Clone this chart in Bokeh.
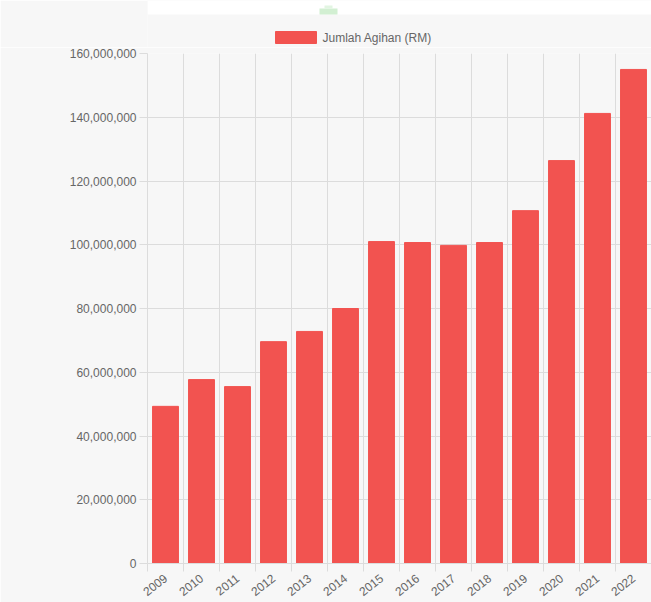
import numpy as np
from bokeh.plotting import figure
from bokeh.layouts import column
from bokeh.models import (Range1d, FixedTicker, NumeralTickFormatter,
                          Grid, ColumnDataSource)
from bokeh.core.properties import value
from bokeh.embed import file_html
from bokeh.resources import INLINE

years = ["2009", "2010", "2011", "2012", "2013", "2014", "2015",
         "2016", "2017", "2018", "2019", "2020", "2021", "2022"]
amounts = [49.3e6, 57.7e6, 55.5e6, 69.6e6, 72.8e6, 80.0e6, 101.0e6,
           100.7e6, 99.8e6, 100.7e6, 110.7e6, 126.4e6, 141.2e6, 155.0e6]
y_ticks = [0, 20e6, 40e6, 60e6, 80e6, 100e6, 120e6, 140e6, 160e6]
series_name = "Jumlah Agihan (RM)"

n = len(years)
idx = list(range(n))
src = ColumnDataSource(dict(x=idx, top=amounts, year=years))

BG = "#f7f7f7"
GRID = "#dcdcdc"
TXT = "#666666"
BAR = "#f25350"
HEAD_H = 47
LEFT = 147

# ---- header with legend (pixel-like coordinates) ----
h = figure(width=651, height=HEAD_H, output_backend="svg",
           toolbar_location=None, x_range=Range1d(LEFT, 651),
           y_range=Range1d(HEAD_H, 0), min_border=0, min_border_left=LEFT,
           x_axis_type=None, y_axis_type=None)
h.background_fill_color = BG
h.border_fill_color = BG
h.outline_line_color = None
h.xgrid.visible = False
h.ygrid.visible = False
h.quad(left=LEFT, right=651, top=0, bottom=14, fill_color="white", line_color=None)
h.quad(left=319, right=337, top=8, bottom=14, fill_color="#d2efd2", line_color=None)
h.quad(left=324, right=332, top=5, bottom=8, fill_color="#e2f5e2", line_color=None)
h.quad(left=275, right=316, top=31, bottom=43, fill_color=BAR, line_color=BAR)
h.text(x=[322], y=[37.5], text=[series_name], text_baseline="middle",
       text_align="left", text_font=value("Liberation Sans"),
       text_font_size="12px", text_color=TXT)

# ---- main chart ----
p = figure(width=651, height=602 - HEAD_H, output_backend="svg",
           toolbar_location=None,
           x_range=Range1d(-0.5, n - 0.5), y_range=Range1d(0, 160e6),
           min_border_left=LEFT, min_border_right=0, min_border_top=6,
           min_border_bottom=39)
p.background_fill_color = BG
p.border_fill_color = BG
p.outline_line_color = None

r = p.vbar(x="x", top="top", width=0.72, source=src, fill_color=BAR,
           line_color=BAR, line_width=1)

xt = FixedTicker(ticks=idx, minor_ticks=[i - 0.5 for i in idx] + [n - 0.5])
xa = p.xaxis[0]
xa.ticker = xt
xa.major_label_overrides = {i: y for i, y in zip(idx, years)}
xa.major_tick_out = 0
xa.major_tick_in = 0
xa.minor_tick_out = 8
xa.minor_tick_in = 0
xa.minor_tick_line_color = GRID
xa.axis_line_color = GRID
xa.major_label_orientation = 0.66
xa.major_label_text_font = "Liberation Sans"
xa.major_label_text_font_size = "12px"
xa.major_label_text_color = TXT
xa.major_label_standoff = 5

p.xgrid.grid_line_color = None
vg = Grid(dimension=0, ticker=xt, grid_line_color=None,
          minor_grid_line_color=GRID)
p.add_layout(vg)

ya = p.yaxis[0]
ya.ticker = FixedTicker(ticks=y_ticks)
ya.formatter = NumeralTickFormatter(format="0,0")
ya.major_tick_out = 8
ya.major_tick_in = 0
ya.major_tick_line_color = GRID
ya.minor_tick_line_color = None
ya.axis_line_color = GRID
ya.major_label_text_font = "Liberation Sans"
ya.major_label_text_font_size = "12px"
ya.major_label_text_color = TXT
ya.major_label_standoff = 3
p.ygrid.ticker = FixedTicker(ticks=y_ticks)
p.ygrid.grid_line_color = GRID

layout = column(h, p, spacing=0)
open("out.html", "w").write(file_html(layout, INLINE))
